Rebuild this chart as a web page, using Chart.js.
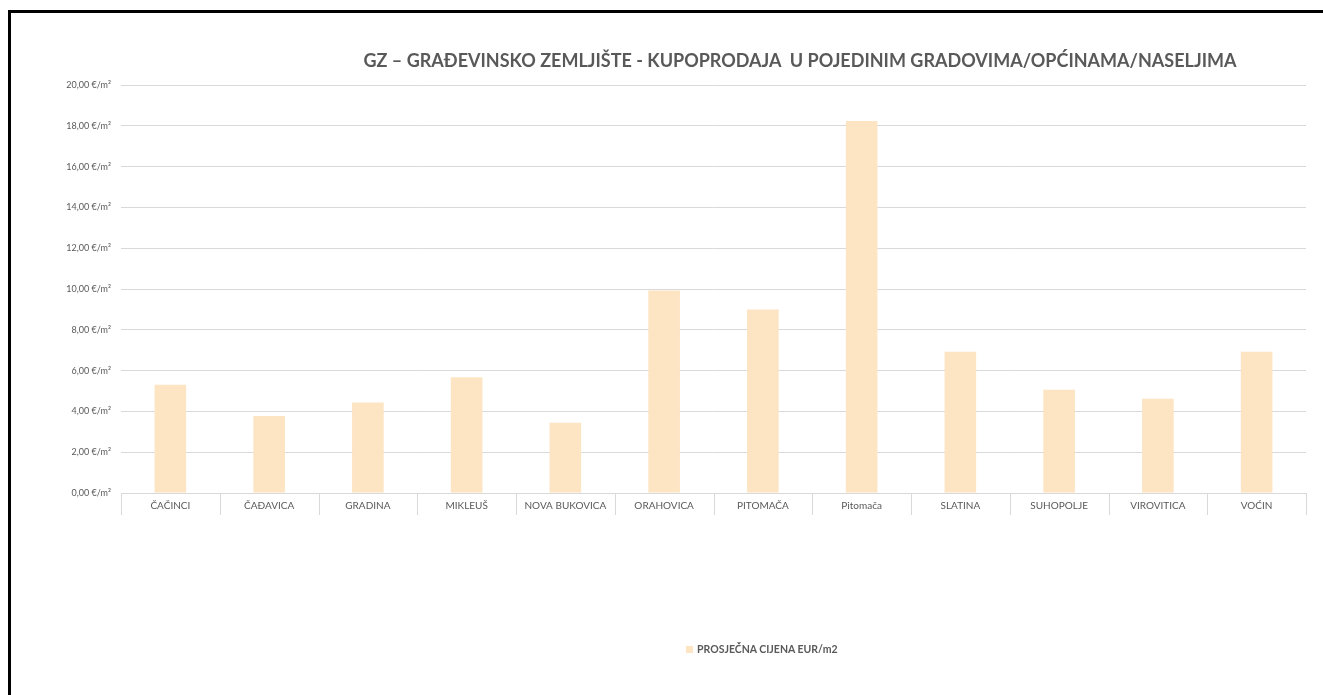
<!DOCTYPE html>
<html>
<head>
<meta charset="utf-8">
<script src="https://cdn.jsdelivr.net/npm/chart.js@4"></script>
<style>
  html, body { margin: 0; padding: 0; background: #fff; overflow: hidden; }
  body { width: 1323px; height: 695px; position: relative; font-family: Lato, "Open Sans", sans-serif; }
  #frame { position: absolute; left: 8px; top: 10px; width: 1400px; height: 800px; border: 3px solid #000; box-sizing: border-box; }
  #wrap { position: absolute; left: 0; top: 0; width: 1323px; height: 695px; }
  #title { position: absolute; top: 49px; left: 0; width: 1600px; text-align: center; font-weight: bold; font-size: 18px; color: #595959; white-space: nowrap; }
  #legend { position: absolute; top: 643px; left: 686px; font-weight: bold; font-size: 10.5px; color: #595959; white-space: nowrap; }
  #legend span { display: inline-block; width: 7px; height: 7px; background: #fde4c3; margin-right: 4px; }
</style>
</head>
<body>
<div id="frame"></div>
<div id="wrap"><canvas id="chart" width="1323" height="695"></canvas></div>
<div id="title">GZ – GRAĐEVINSKO ZEMLJIŠTE - KUPOPRODAJA&nbsp; U POJEDINIM GRADOVIMA/OPĆINAMA/NASELJIMA</div>
<div id="legend"><span></span>PROSJEČNA CIJENA EUR/m2</div>
<script>
const categories = ['ČAČINCI', 'ČAĐAVICA', 'GRADINA', 'MIKLEUŠ', 'NOVA BUKOVICA', 'ORAHOVICA',
    'PITOMAČA', 'Pitomača', 'SLATINA', 'SUHOPOLJE', 'VIROVITICA', 'VOĆIN'];
const avgPrice = [5.31, 3.78, 4.44, 5.68, 3.44, 9.93, 8.99, 18.23, 6.93, 5.06, 4.62, 6.93];
const seriesName = 'PROSJEČNA CIJENA EUR/m2';

const fmt = v => v.toFixed(2).replace('.', ',') + ' €/m²';

// short separators under the x axis, between categories
const categoryTicks = {
    id: 'categoryTicks',
    afterDraw(chart) {
        const x = chart.scales.x;
        const ctx = chart.ctx;
        const step = (x.right - x.left) / categories.length;
        ctx.save();
        ctx.strokeStyle = '#d9d9d9';
        ctx.lineWidth = 1;
        for (let i = 0; i <= categories.length; i++) {
            const px = Math.round(x.left + i * step) + 0.5;
            ctx.beginPath();
            ctx.moveTo(px, x.top);
            ctx.lineTo(px, x.top + 22);
            ctx.stroke();
        }
        ctx.restore();
    },
};

new Chart(document.getElementById('chart').getContext('2d'), {
    type: 'bar',
    data: {
        labels: categories,
        datasets: [{
            label: seriesName,
            data: avgPrice,
            backgroundColor: '#fde4c3',
            barPercentage: 0.64,
            categoryPercentage: 0.5,
        }],
    },
    options: {
        responsive: false,
        animation: false,
        layout: { padding: { top: 85, right: 17, bottom: 176, left: 0 } },
        plugins: {
            legend: { display: false },
            title: { display: false },
            tooltip: { enabled: false },
        },
        scales: {
            x: {
                grid: { drawOnChartArea: false, drawTicks: false },
                border: { color: '#d9d9d9' },
                ticks: { color: '#595959', font: { family: 'Lato', size: 10 }, padding: 7, maxRotation: 0, autoSkip: false },
            },
            y: {
                min: 0,
                max: 20,
                grid: { color: '#d9d9d9', drawTicks: false },
                border: { display: false },
                afterFit: scale => { scale.width = 121; },
                ticks: { stepSize: 2, color: '#595959', font: { family: 'Lato', size: 9 }, padding: 10, callback: fmt },
            },
        },
    },
    plugins: [categoryTicks],
});
</script>
</body>
</html>
